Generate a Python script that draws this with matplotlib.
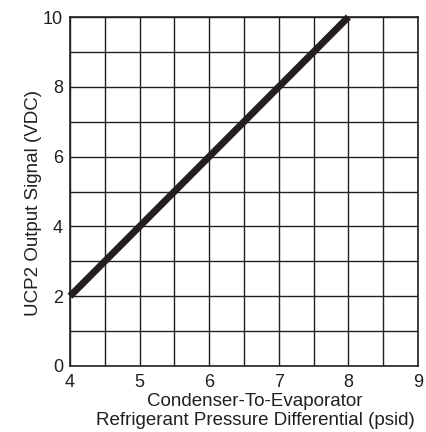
import matplotlib
matplotlib.use("Agg")
import matplotlib.pyplot as plt
import numpy as np

# Data
pressure_psid = [4, 8]
signal_vdc = [2, 10]
x_ticks = [4, 5, 6, 7, 8, 9]
y_ticks = [0, 2, 4, 6, 8, 10]

plt.rcParams['font.family'] = ['Liberation Sans', 'DejaVu Sans']

fig = plt.figure(figsize=(4.27, 4.32), dpi=100)
ax = fig.add_axes([70/427, 1-366/432, (418-70)/427, (366-17)/432])

ax.set_xlim(4, 9)
ax.set_ylim(0, 10)
ax.set_xticks(np.arange(4, 9.01, 0.5), minor=True)
ax.set_yticks(np.arange(0, 10.01, 1), minor=True)
ax.set_xticks(x_ticks)
ax.set_yticks(y_ticks)
ax.grid(True, which='both', color='#231f20', linewidth=1.0)
ax.tick_params(which='both', length=0, labelsize=13, colors='#231f20')
ax.tick_params(axis='x', pad=6)
ax.tick_params(axis='y', pad=5)
for s in ax.spines.values():
    s.set_color('#231f20')
    s.set_linewidth(1.2)

ax.plot(pressure_psid, signal_vdc, color='#231f20', linewidth=5,
        solid_capstyle='butt', zorder=3, clip_on=False)

ax.set_xlabel("Condenser-To-Evaporator\nRefrigerant Pressure Differential (psid)",
              fontsize=13.5, color='#231f20', linespacing=1.1)
ax.xaxis.set_label_coords(0.532, -0.078)
ax.xaxis.label.set_va('top')
ax.set_ylabel("UCP2 Output Signal (VDC)", fontsize=13.5, color='#231f20')
ax.yaxis.set_label_coords(-0.106, 0.467)
ax.yaxis.label.set_va('center')

fig.savefig("out.png", dpi=100)
